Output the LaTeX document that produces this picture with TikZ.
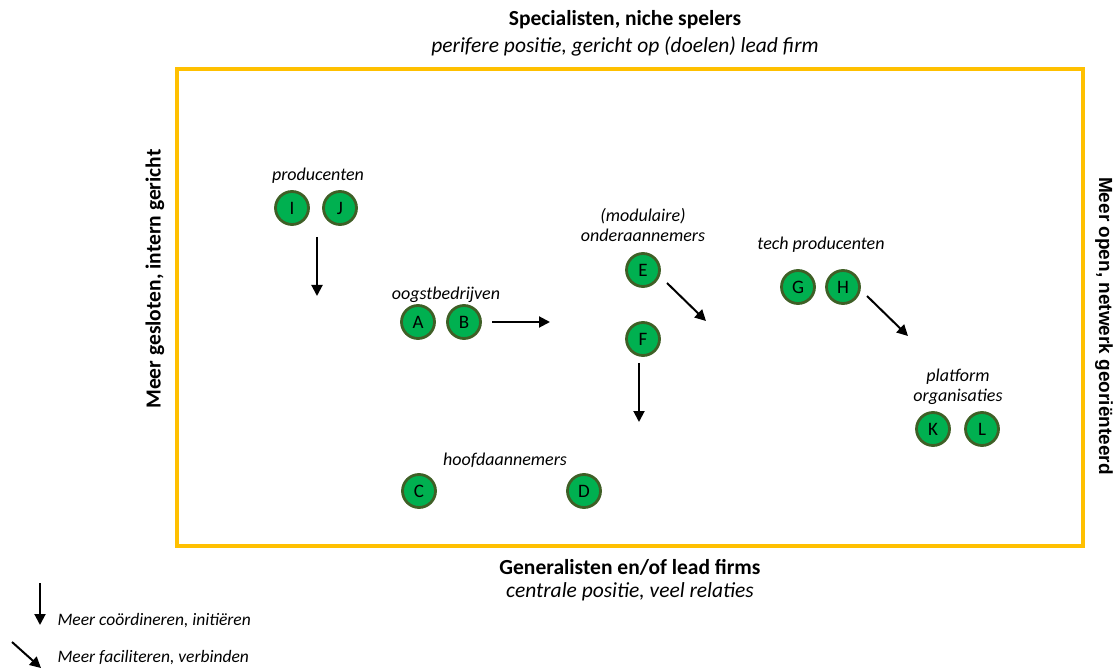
\documentclass[tikz,border=0pt]{standalone}
\usepackage{fontspec}
\setmainfont{Carlito}
\newfontfamily\arialfont{Liberation Sans}
\usetikzlibrary{arrows.meta}
\definecolor{frameyellow}{HTML}{FFC000}
\definecolor{actorgreen}{HTML}{00B050}
\definecolor{actorrim}{HTML}{3F5F26}
\tikzset{
  actor/.style={circle, fill=actorgreen, draw=actorrim, line width=2.8pt,
    minimum size=33pt, inner sep=0pt, font=\fontsize{19}{19}\selectfont},
  grouplabel/.style={font=\itshape\fontsize{18}{20.5}\selectfont, align=center},
  headline/.style={font=\bfseries\fontsize{21.5}{24}\selectfont},
  subline/.style={font=\itshape\fontsize{21.5}{24}\selectfont},
  flow/.style={-{Triangle[length=11pt,width=11pt]}, line width=2pt},
  legendtext/.style={font=\itshape\fontsize{17.5}{20}\selectfont, anchor=west}
}
\begin{document}
\begin{tikzpicture}[x=1pt,y=-1pt]
\useasboundingbox (0,0) rectangle (1117,668);
% frame
\draw[frameyellow, line width=3.5pt] (177,69) rectangle (1083,546);
% axis captions
\node[headline] (top) at (625,20) {Specialisten, niche spelers};
\node[subline] (topsub) at (625,46) {perifere positie, gericht op (doelen) lead firm};
\node[headline] (bottom) at (630,567) {Generalisten en/of lead firms};
\node[subline] (bottomsub) at (630,592) {centrale positie, veel relaties};
\node[headline, rotate=90] (left) at (155,279) {Meer gesloten, intern gericht};
\node[font=\arialfont\bfseries\fontsize{19}{21}\selectfont, rotate=-90] (right) at (1104,326) {Meer open, netwerk georiënteerd};
% actors
\node[actor] (I) at (292,208) {I};
\node[actor] (J) at (340,208) {J};
\node[actor] (A) at (418,322) {A};
\node[actor] (B) at (464,322) {B};
\node[actor] (E) at (643,270) {E};
\node[actor] (F) at (643,339) {F};
\node[actor] (G) at (798,287) {G};
\node[actor] (H) at (843,287) {H};
\node[actor] (C) at (419,491) {C};
\node[actor] (D) at (584,491) {D};
\node[actor] (K) at (933,429) {K};
\node[actor] (L) at (982,429) {L};
% group labels
\node[grouplabel] (lprod) at (318,176) {producenten};
\node[grouplabel] (loogst) at (446,295) {oogstbedrijven};
\node[grouplabel] (londer) at (643,225) {(modulaire)\\onderaannemers};
\node[grouplabel] (ltech) at (821,245) {tech producenten};
\node[grouplabel] (lplat) at (958,387) {platform\\organisaties};
\node[grouplabel] (lhoofd) at (505,460) {hoofdaannemers};
% arrows
\coordinate (ijs) at (317,237); \coordinate (ije) at (317,296);
\coordinate (abs) at (492,322); \coordinate (abe) at (550,322);
\coordinate (es) at (667,283); \coordinate (ee) at (706,321);
\coordinate (fs) at (639,363); \coordinate (fe) at (639,422);
\coordinate (hs) at (867,296); \coordinate (he) at (908,336);
\draw[flow] (ijs) -- (ije);
\draw[flow] (abs) -- (abe);
\draw[flow] (es) -- (ee);
\draw[flow] (fs) -- (fe);
\draw[flow] (hs) -- (he);
% legend
\coordinate (l1s) at (40,583); \coordinate (l1e) at (40,625);
\coordinate (l2s) at (12,642); \coordinate (l2e) at (41,668);
\draw[flow] (l1s) -- (l1e);
\draw[flow] (l2s) -- (l2e);
\node[legendtext] (leg1) at (54,621) {Meer coördineren, initiëren};
\node[legendtext] (leg2) at (54,658) {Meer faciliteren, verbinden};
\end{tikzpicture}
\end{document}
